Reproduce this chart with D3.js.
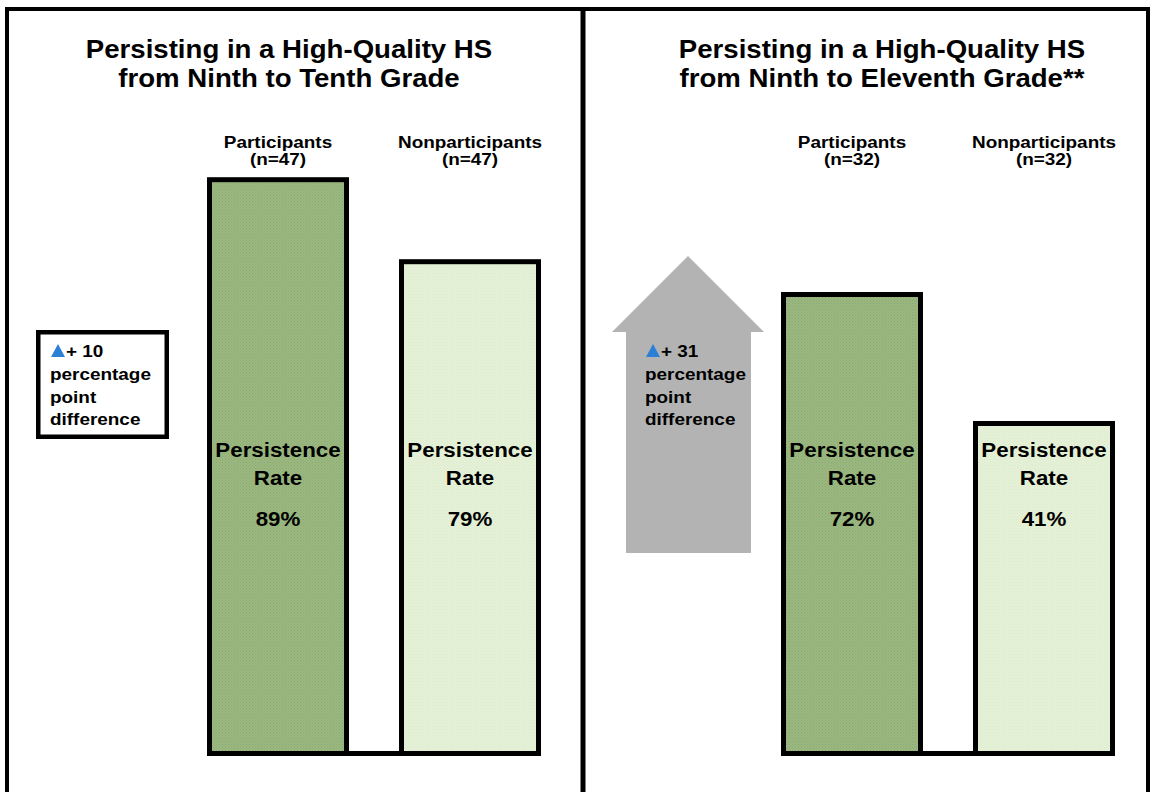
<!DOCTYPE html>
<html><head><meta charset="utf-8">
<script src="https://cdn.jsdelivr.net/npm/d3@7"></script>
<style>
html,body{margin:0;padding:0;background:#fff}
svg{display:block}
text{font-family:"Liberation Sans",Arial,Helvetica,sans-serif;font-weight:bold;fill:#000}
</style>
</head><body>
<svg id="chart" width="1152" height="792"></svg>
<script>
// ---------------- data ----------------
const panelTitles = [
  ["Persisting in a High-Quality HS", "from Ninth to Tenth Grade"],
  ["Persisting in a High-Quality HS", "from Ninth to Eleventh Grade**"]
];
const categories = ["Participants", "Nonparticipants"];
const sampleSizes = [[47, 47], [32, 32]];
const persistenceRates = [[89, 79], [72, 41]];
const barTextLines = ["Persistence", "Rate"];
const calloutTextLines = ["percentage", "point", "difference"];

// ---------------- layout / style ----------------
const W = 1152, H = 792;
const SX = 1.1;             // horizontal text stretch of the original slide
const layout = [
  { xRange: [207, 541], yRange: [907, 87], titleX: 289, callout: "box" },
  { xRange: [781, 1115], yRange: [591.6, 175.5], titleX: 882, callout: "arrow" }
];
const baseY = 756, barStroke = 5;
const fills = ["url(#patDark)", "url(#patLight)"];

const svg = d3.select("#chart");
const defs = svg.append("defs");
function makePattern(id, base, dot) {
  const p = defs.append("pattern").attr("id", id).attr("patternUnits", "userSpaceOnUse")
    .attr("width", 3).attr("height", 3);
  p.append("rect").attr("width", 3).attr("height", 3).attr("fill", base);
  p.append("rect").attr("x", 0).attr("y", 0).attr("width", 1).attr("height", 1).attr("fill", dot);
  p.append("rect").attr("x", 1.5).attr("y", 1.5).attr("width", 1).attr("height", 1).attr("fill", dot);
}
makePattern("patDark", "#9bb880", "#8aa86f");
makePattern("patLight", "#e5f2d8", "#d9e9ca");

function stext(g, x, y, str, size, anchor) {
  return g.append("text")
    .attr("transform", `translate(${x},${y}) scale(${SX},1)`)
    .attr("text-anchor", anchor || "middle")
    .style("font-size", size + "px")
    .text(str);
}
function blueTriangle(g, x0, yb) {
  g.append("path").attr("d", d3.line()([[x0, yb], [x0 + 14, yb], [x0 + 7, yb - 13]]) + "Z")
    .attr("fill", "#2b80d6");
}

// frame
svg.append("path").attr("d", `M7,${H + 10} L7,9 L1148,9 L1148,${H + 10}`)
  .attr("fill", "none").attr("stroke", "#000").attr("stroke-width", 4);
svg.append("line").attr("x1", 583).attr("x2", 583).attr("y1", 9).attr("y2", H + 10)
  .attr("stroke", "#000").attr("stroke-width", 5);

layout.forEach((L, pi) => {
  const g = svg.append("g");
  const x = d3.scaleBand().domain(categories).range(L.xRange).paddingInner(50 / 192);
  const y = d3.scaleLinear().domain([0, 100]).range(L.yRange);
  const rates = persistenceRates[pi];

  // title
  panelTitles[pi].forEach((t, i) => stext(g, L.titleX, 58 + i * 29, t, 25.1));

  // category labels
  categories.forEach((c, i) => {
    const cx = x(c) + x.bandwidth() / 2;
    stext(g, cx, 148, c, 17.2);
    stext(g, cx, 165, `(n=${sampleSizes[pi][i]})`, 17.2);
  });

  // baseline joining the bars
  g.append("line").attr("x1", L.xRange[0]).attr("x2", L.xRange[1])
    .attr("y1", baseY - barStroke / 2).attr("y2", baseY - barStroke / 2)
    .attr("stroke", "#000").attr("stroke-width", barStroke);

  // bars
  g.selectAll("rect.bar").data(rates).join("rect").attr("class", "bar")
    .attr("x", (d, i) => x(categories[i]) + barStroke / 2)
    .attr("y", d => y(d) + barStroke / 2)
    .attr("width", x.bandwidth() - barStroke)
    .attr("height", d => baseY - y(d) - barStroke)
    .attr("fill", (d, i) => fills[i])
    .attr("stroke", "#000").attr("stroke-width", barStroke);

  // bar texts
  rates.forEach((d, i) => {
    const cx = x(categories[i]) + x.bandwidth() / 2;
    stext(g, cx, 457, barTextLines[0], 20.3);
    stext(g, cx, 485, barTextLines[1], 20.3);
    stext(g, cx, 526, d + "%", 20.3);
  });

  // callout
  const diff = rates[0] - rates[1];
  let tx;
  if (L.callout === "box") {
    g.append("rect").attr("x", 38.25).attr("y", 332.25).attr("width", 128.5).attr("height", 104.5)
      .attr("fill", "#fff").attr("stroke", "#000").attr("stroke-width", 4.5);
    tx = 50;
  } else {
    g.append("path").attr("d", d3.line()([[688, 256], [764, 332], [751, 332], [751, 553],
      [626, 553], [626, 332], [612, 332]]) + "Z").attr("fill", "#b3b3b3");
    tx = 645;
  }
  blueTriangle(g, tx + 1, 357);
  stext(g, tx + 16, 357, "+ " + diff, 17.2, "start");
  calloutTextLines.forEach((t, i) => stext(g, tx, 380 + i * 22.5, t, 17.2, "start"));
});
</script>
</body></html>
